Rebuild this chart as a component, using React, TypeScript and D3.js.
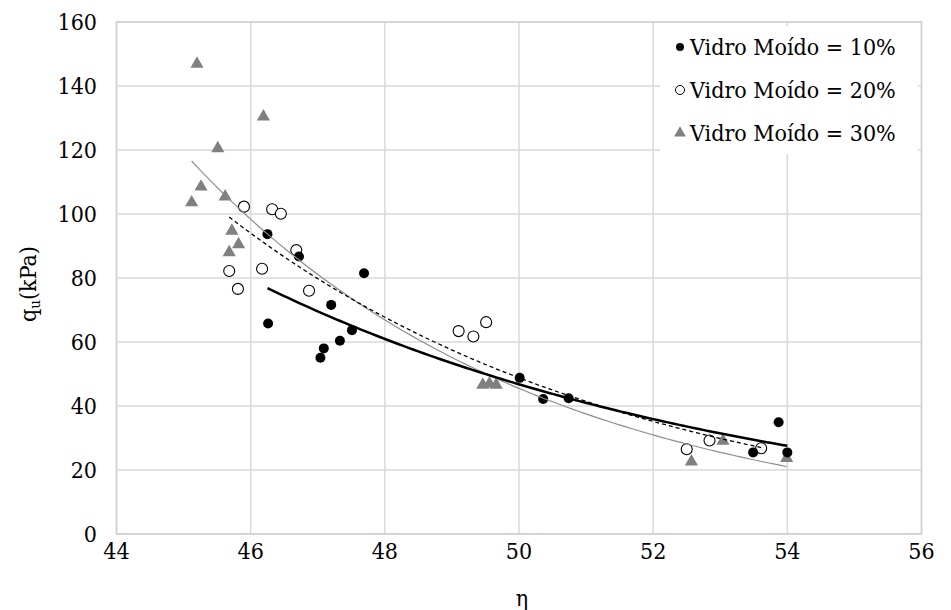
import React from "react";
import * as d3 from "d3";

const vm10X = [46.25, 46.72, 47.69, 47.2, 46.26, 47.51, 47.33, 47.09, 47.04, 50.01, 50.36, 50.74, 53.87, 53.49, 54.0];
const vm10Y = [93.7, 86.7, 81.5, 71.6, 65.8, 63.7, 60.4, 58.0, 55.1, 48.8, 42.2, 42.4, 34.9, 25.5, 25.5];

const vm20X = [45.9, 46.32, 46.45, 46.68, 45.68, 46.17, 45.81, 46.87, 49.1, 49.32, 49.51, 52.5, 52.84, 53.61];
const vm20Y = [102.3, 101.5, 100.1, 88.7, 82.2, 82.9, 76.6, 76.0, 63.4, 61.7, 66.2, 26.5, 29.2, 26.8];

const vm30X = [45.2, 46.19, 45.51, 45.26, 45.62, 45.12, 45.72, 45.82, 45.68, 49.46, 49.56, 49.66, 53.04, 52.57, 53.99];
const vm30Y = [146.9, 130.4, 120.5, 108.5, 105.4, 103.6, 94.7, 90.5, 88.0, 46.6, 47.0, 46.6, 29.1, 22.6, 23.7];

const xTicks = [44, 46, 48, 50, 52, 54, 56];
const yTicks = [0, 20, 40, 60, 80, 100, 120, 140, 160];
const legendLabels = ["Vidro Moído = 10%", "Vidro Moído = 20%", "Vidro Moído = 30%"];

const W = 951;
const H = 610;
const left = 116.5;
const right = 921.5;
const top = 22;
const bottom = 534;

function expFit(xs: number[], ys: number[]) {
  const n = xs.length;
  const ly = ys.map((v) => Math.log(v));
  const mx = d3.mean(xs)!;
  const my = d3.mean(ly)!;
  let sxy = 0, sxx = 0;
  for (let i = 0; i < n; i++) {
    sxy += (xs[i] - mx) * (ly[i] - my);
    sxx += (xs[i] - mx) * (xs[i] - mx);
  }
  const b = sxy / sxx;
  const a = Math.exp(my - b * mx);
  return (x: number) => a * Math.exp(b * x);
}

const font = "'DejaVu Serif Condensed', 'DejaVu Serif'";

export default function App() {
  const x = d3.scaleLinear().domain([44, 56]).range([left, right]);
  const y = d3.scaleLinear().domain([0, 160]).range([bottom, top]);

  const trend = (xs: number[], ys: number[]) => {
    const f = expFit(xs, ys);
    const [x0, x1] = d3.extent(xs) as [number, number];
    const pts = d3.range(0, 101).map((i) => x0 + ((x1 - x0) * i) / 100);
    return d3.line<number>().x((d) => x(d)).y((d) => y(f(d)))(pts) || "";
  };

  const tri = d3.symbol().type(d3.symbolTriangle).size(75)() || "";
  const triLeg = d3.symbol().type(d3.symbolTriangle).size(60)() || "";

  return (
    <svg width={W} height={H} style={{ position: "absolute", left: 0, top: 0, background: "#fff" }} fontFamily={font}>
      <rect x={0} y={0} width={W} height={H} fill="#fff" />
      {yTicks.map((t) => (
        <line key={"gy" + t} x1={left} x2={right} y1={y(t)} y2={y(t)} stroke="#d9d9d9" strokeWidth={1.5} />
      ))}
      {xTicks.map((t) => (
        <line key={"gx" + t} x1={x(t)} x2={x(t)} y1={top} y2={bottom} stroke="#d9d9d9" strokeWidth={1.5} />
      ))}
      <rect x={left} y={top} width={right - left} height={bottom - top} fill="none" stroke="#d0d0d0" strokeWidth={1.5} />

      {yTicks.map((t) => (
        <text key={"ly" + t} x={97} y={y(t)} dy="0.35em" textAnchor="end" fontSize={23} fill="#000">
          {t}
        </text>
      ))}
      {xTicks.map((t) => (
        <text key={"lx" + t} x={x(t)} y={551} dy="0.35em" textAnchor="middle" fontSize={23} fill="#000">
          {t}
        </text>
      ))}
      <text x={522} y={598} dy="0.35em" textAnchor="middle" fontSize={23}>η</text>
      <text transform={`translate(36,${(top + bottom) / 2 + 6}) rotate(-90)`} textAnchor="middle" fontSize={23}>
        q<tspan fontSize={15} dy={4}>u</tspan><tspan dy={-4}>(kPa)</tspan>
      </text>

      {vm30X.map((v, i) => (
        <path key={"t" + i} d={tri} transform={`translate(${x(v)},${y(vm30Y[i])})`} fill="#808080" />
      ))}
      {vm20X.map((v, i) => (
        <circle key={"o" + i} cx={x(v)} cy={y(vm20Y[i])} r={5.5} fill="#fff" stroke="#000" strokeWidth={1.1} />
      ))}
      {vm10X.map((v, i) => (
        <circle key={"f" + i} cx={x(v)} cy={y(vm10Y[i])} r={5} fill="#000" />
      ))}

      <path d={trend(vm30X, vm30Y)} fill="none" stroke="#8c8c8c" strokeWidth={1.2} />
      <path d={trend(vm20X, vm20Y)} fill="none" stroke="#000" strokeWidth={1.3} strokeDasharray="4,3" />
      <path d={trend(vm10X, vm10Y)} fill="none" stroke="#000" strokeWidth={2.5} />

      <rect x={660} y={26} width={258} height={128} fill="#fff" />
      <circle cx={680} cy={47} r={4} fill="#000" />
      <circle cx={680} cy={90} r={4.5} fill="#fff" stroke="#000" strokeWidth={1} />
      <path d={triLeg} transform="translate(680,133)" fill="#808080" />
      {legendLabels.map((l, i) => (
        <text key={l} x={690} y={47 + i * 43} dy="0.35em" fontSize={23} fill="#000">
          {l}
        </text>
      ))}
    </svg>
  );
}
